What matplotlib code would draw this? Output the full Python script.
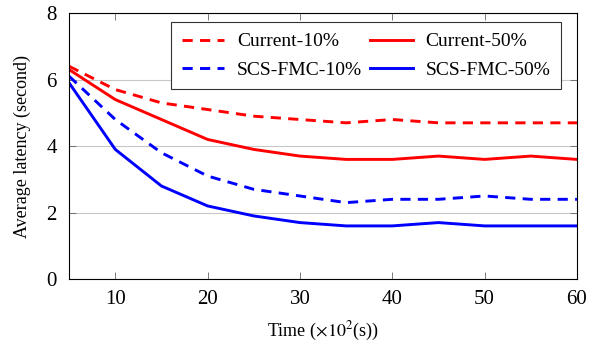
import matplotlib
matplotlib.use("Agg")
import matplotlib.pyplot as plt

plt.rcParams['font.family'] = ['Liberation Serif', 'DejaVu Serif']
plt.rcParams['mathtext.fontset'] = 'stix'

time = [5, 10, 15, 20, 25, 30, 35, 40, 45, 50, 55, 60]
current_10 = [6.4, 5.7, 5.3, 5.1, 4.9, 4.8, 4.7, 4.8, 4.7, 4.7, 4.7, 4.7]
current_50 = [6.3, 5.4, 4.8, 4.2, 3.9, 3.7, 3.6, 3.6, 3.7, 3.6, 3.7, 3.6]
scs_10 = [6.1, 4.8, 3.8, 3.1, 2.7, 2.5, 2.3, 2.4, 2.4, 2.5, 2.4, 2.4]
scs_50 = [5.9, 3.9, 2.8, 2.2, 1.9, 1.7, 1.6, 1.6, 1.7, 1.6, 1.6, 1.6]

fig = plt.figure(figsize=(5.96, 3.45), dpi=100)
ax = fig.add_axes([0.116, 0.191, 0.852, 0.771])

lw = 2.1
dash = (0, (3.5, 2.5))
ax.plot(time, current_10, color='red', ls=dash, lw=lw, label='Current-10%')
ax.plot(time, current_50, color='red', ls='-', lw=lw, label='Current-50%')
ax.plot(time, scs_10, color='blue', ls=dash, lw=lw, label='SCS-FMC-10%')
ax.plot(time, scs_50, color='blue', ls='-', lw=lw, label='SCS-FMC-50%')

ax.set_xlim(5, 60)
ax.set_ylim(0, 8)
ax.set_xticks([10, 20, 30, 40, 50, 60])
ax.set_yticks([0, 2, 4, 6, 8])
ax.yaxis.grid(True, color='#c8c8c8', lw=0.8)
ax.set_axisbelow(True)
ax.tick_params(direction='in', top=True, right=True, labelsize=15, length=5,
               width=0.6, color='#666666')
ax.tick_params(axis='y', pad=9)
ax.tick_params(axis='x', pad=8)
for s in ax.spines.values():
    s.set_linewidth(0.8)

ax.set_xlabel(r'Time ($\times10^2$(s))', fontsize=13, labelpad=8)
ax.set_ylabel('Average latency (second)', fontsize=13, labelpad=11)

# legend order: rows are (C10, C50), (S10, S50)
h, l = ax.get_legend_handles_labels()
order = [0, 2, 1, 3]
leg = ax.legend([h[i] for i in order], [l[i] for i in order], ncol=2,
                loc='upper right', bbox_to_anchor=(0.9685, 0.966),
                borderaxespad=0, fontsize=14, fancybox=False,
                edgecolor='#333333', framealpha=1, handlelength=2.2,
                columnspacing=0.4, handletextpad=0.65, labelspacing=0.55,
                borderpad=0.55)
leg.get_frame().set_linewidth(0.8)

fig.savefig('out.png', dpi=100)
